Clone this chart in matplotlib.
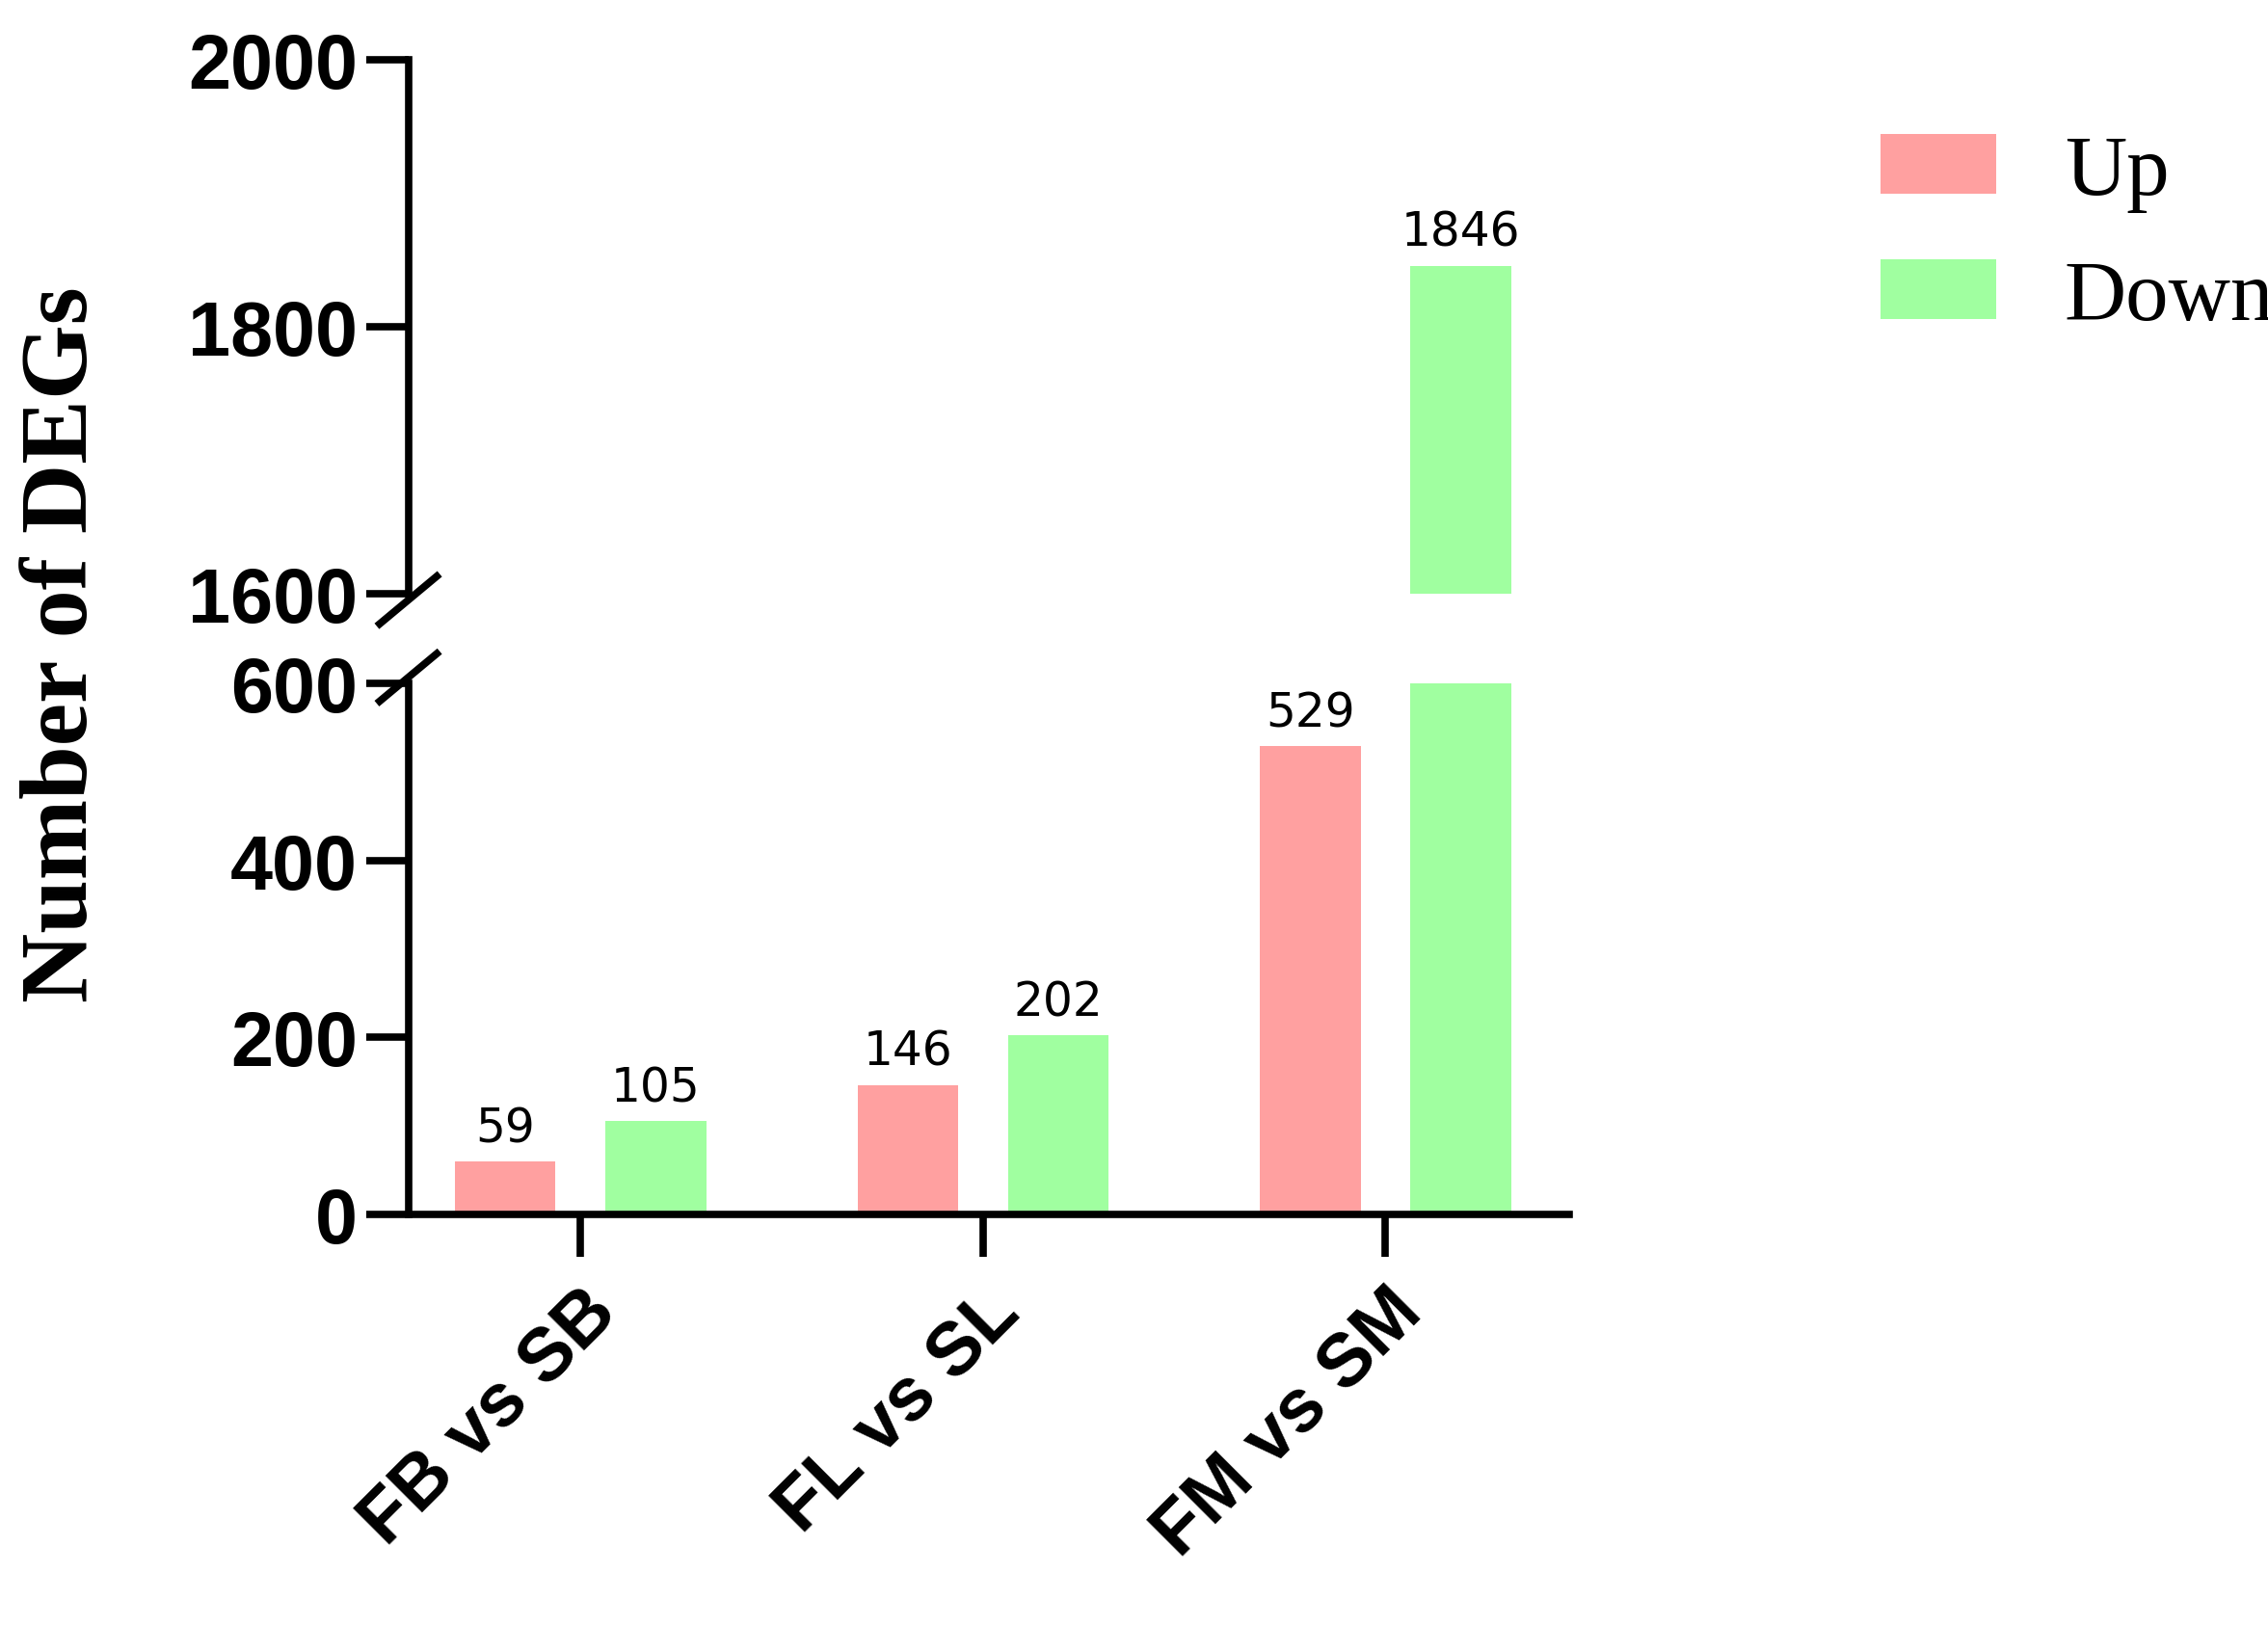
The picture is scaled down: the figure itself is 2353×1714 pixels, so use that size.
import matplotlib
matplotlib.use("Agg")
import matplotlib.pyplot as plt
import numpy as np

categories = ["FB vs SB", "FL vs SL", "FM vs SM"]
up = [59, 146, 529]
down = [105, 202, 1846]
up_color = "#FFA0A0"
down_color = "#A0FFA0"

fig = plt.figure(figsize=(23.53, 17.15), dpi=100)
L, R = 0.180, 0.692
axl = fig.add_axes([L, 0.265, R - L, 0.586 - 0.265])
axu = fig.add_axes([L, 0.640, R - L, 0.963 - 0.640])

x = np.arange(len(categories))
w, off = 0.25, 0.187
lw = 5.5
for ax in (axl, axu):
    ax.bar(x - off, up, w, color=up_color, label="Up")
    ax.bar(x + off, down, w, color=down_color, label="Down")
    ax.set_xlim(-0.428, 2.457)
    for s in ("top", "right"):
        ax.spines[s].set_visible(False)
    ax.spines["left"].set_linewidth(lw)
    ax.tick_params(axis="y", width=lw, length=32, labelsize=57, pad=6)
axl.set_ylim(0, 600)
axl.set_yticks([0, 200, 400, 600])
axu.set_ylim(1600, 2000)
axu.set_yticks([1600, 1800, 2000])
axu.spines["bottom"].set_visible(False)
axu.set_xticks([])
axl.spines["bottom"].set_linewidth(lw)
axl.set_xticks(x)
axl.set_xticklabels(categories, rotation=45, ha="right", rotation_mode="anchor",
                    fontsize=56, fontweight="bold", family="Liberation Sans")
axl.tick_params(axis="x", width=lw, length=32, pad=14)
for ax in (axl, axu):
    for t in ax.get_yticklabels():
        t.set_fontweight("bold"); t.set_family("Liberation Sans")

for i in range(3):
    axl.text(x[i] - off, up[i] + 12, str(up[i]), ha="center", va="bottom",
             fontsize=35, family="DejaVu Sans")
    tgt = axl if down[i] <= 600 else axu
    tgt.text(x[i] + off, down[i] + (8 if tgt is axu else 12), str(down[i]),
             ha="center", va="bottom", fontsize=35, family="DejaVu Sans")

d = 0.018
kw = dict(transform=fig.transFigure, color="k", lw=lw, clip_on=False)
fig.add_artist(plt.Line2D([L - d * 0.7, L + d * 0.7], [0.640 - d, 0.640 + d * 0.6], **kw))
fig.add_artist(plt.Line2D([L - d * 0.7, L + d * 0.7], [0.586 - d * 0.6, 0.586 + d], **kw))

fig.text(0.028, 0.61, "Number of DEGs", rotation=90, va="center", ha="center",
         fontsize=72, fontweight="bold", family="Liberation Serif")

h, l = axl.get_legend_handles_labels()
fig.legend(h, l, loc="upper left", bbox_to_anchor=(0.795, 0.965), frameon=False,
           prop={"family": "Liberation Serif", "size": 64}, handlelength=1.35,
           handleheight=0.7, labelspacing=0.55, handletextpad=0.8)

fig.savefig("out.png", dpi=100)
